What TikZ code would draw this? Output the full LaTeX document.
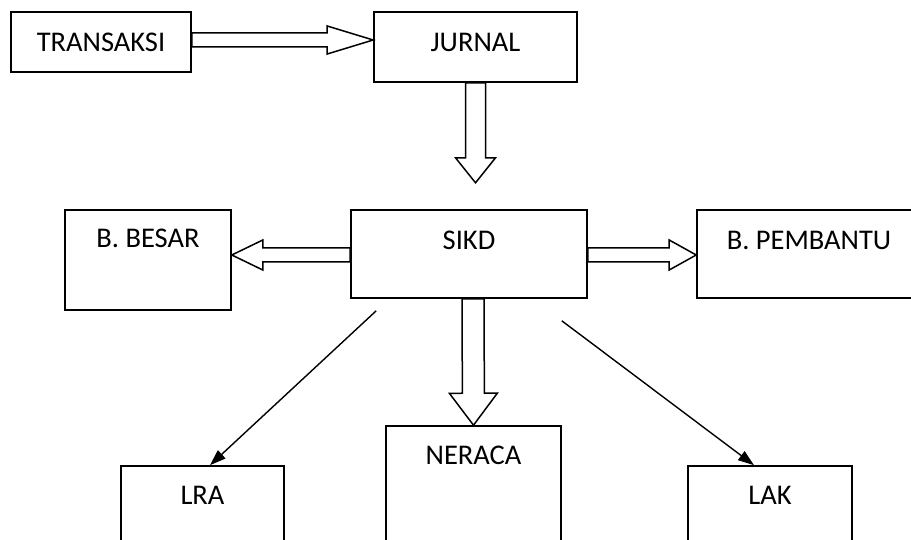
\documentclass[tikz,border=0pt]{standalone}
\usepackage{fontspec}
\setmainfont{Carlito}
\usetikzlibrary{calc,arrows.meta}

\tikzset{
	box/.style={draw, line width=1.6pt, inner sep=0pt},
	lbl/.style={anchor=base, inner sep=0pt, font=\fontsize{28.5}{34}\selectfont},
	dblarr/.style={line width=1.5pt, line join=miter},
	blockarr/.style n args={3}{to path={
		let \p1=(\tikztostart), \p2=(\tikztotarget), \p3=($(\p2)!#3!(\p1)$) in
		($(\p1)!#1!90:(\p2)$) -- ($(\p3)!#1!90:(\p2)$) -- ($(\p3)!#2!90:(\p2)$) -- (\p2)
		-- ($(\p3)!#2!-90:(\p2)$) -- ($(\p3)!#1!-90:(\p2)$) -- ($(\p1)!#1!-90:(\p2)$) -- cycle}},
	thinarr/.style={line width=1.4pt, -{Triangle[length=16pt,width=11pt]}}
}

\begin{document}
\begin{tikzpicture}[x=1pt, y=-1pt]
	\useasboundingbox (0,0) rectangle (911,540);
	\clip (0,0) rectangle (911,540);

	% boxes
	\node[box, minimum width=180pt, minimum height=60pt] (trans) at (101,42) {};
	\node[box, minimum width=203pt, minimum height=70pt] (jurnal) at (475.5,47) {};
	\node[box, minimum width=236pt, minimum height=88pt] (sikd) at (469,254) {};
	\node[box, minimum width=166pt, minimum height=100pt] (besar) at (148,260) {};
	\node[box, minimum width=224pt, minimum height=88pt] (pembantu) at (809,254) {};
	\node[box, minimum width=163pt, minimum height=100pt] (lra) at (202.5,516) {};
	\node[box, minimum width=175pt, minimum height=140pt] (neraca) at (473.5,496) {};
	\node[box, minimum width=164pt, minimum height=100pt] (lak) at (770,516) {};

	% texts
	\node[lbl] (trans-t) at ([yshift=-40pt]trans.north) {TRANSAKSI};
	\node[lbl] (jurnal-t) at ([yshift=-40pt]jurnal.north) {JURNAL};
	\node[lbl] (sikd-t) at ([yshift=-40pt]sikd.north) {SIKD};
	\node[lbl] (besar-t) at ([yshift=-38.5pt]besar.north) {B. BESAR};
	\node[lbl] (pembantu-t) at ([yshift=-40pt]pembantu.north) {B. PEMBANTU};
	\node[lbl] (lra-t) at ([yshift=-39pt]lra.north) {LRA};
	\node[lbl] (neraca-t) at ([yshift=-39pt]neraca.north) {NERACA};
	\node[lbl] (lak-t) at ([yshift=-39pt]lak.north) {LAK};

	% connectors
	\draw[dblarr] ([yshift=2pt]trans.east) to[blockarr={7pt}{14pt}{46pt}] ([yshift=7pt]jurnal.west);
	\draw[dblarr] (jurnal.south) to[blockarr={10pt}{20pt}{25pt}] ([yshift=-100pt]jurnal.south);
	\draw[dblarr] ([yshift=-1pt]sikd.west) to[blockarr={7pt}{15pt}{31pt}] ([yshift=5pt]besar.east);
	\draw[dblarr] ([yshift=-1pt]sikd.east) to[blockarr={7pt}{15pt}{27pt}] ([yshift=-1pt]pembantu.west);
	\draw[dblarr] ([xshift=4pt]sikd.south) to[blockarr={11pt}{24pt}{32pt}] (neraca.north);
	\draw[thinarr] ([xshift=26pt, yshift=-12pt]sikd.south west) -- ([xshift=7.5pt]lra.north);
	\draw[thinarr] ([xshift=-26pt, yshift=-22pt]sikd.south east) -- ([xshift=-16pt]lak.north);
\end{tikzpicture}
\end{document}
